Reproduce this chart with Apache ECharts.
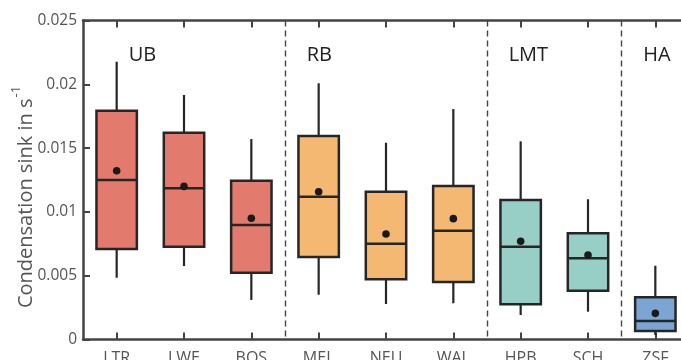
<!DOCTYPE html>
<html>
<head>
<meta charset="utf-8">
<script src="https://cdn.jsdelivr.net/npm/echarts@6/dist/echarts.min.js"></script>
<style>
html,body{margin:0;padding:0;background:#fff;overflow:hidden;width:681px;height:360px;}
#c{width:720px;height:400px;}
</style>
</head>
<body>
<div id="c"></div>
<script>
// ---- data ----
const sites = ['LTR','LWE','BOS','MEL','NEU','WAL','HPB','SCH','ZSF'];
const whiskerLow  = [0.00484,0.00576,0.00310,0.00351,0.00278,0.00284,0.00192,0.00218,0.00035];
const q1          = [0.00709,0.00727,0.00524,0.00647,0.00472,0.00451,0.00276,0.00382,0.00067];
const median      = [0.01250,0.01185,0.00897,0.01119,0.00751,0.00853,0.00727,0.00636,0.00145];
const q3          = [0.01793,0.01621,0.01245,0.01595,0.01158,0.01203,0.01093,0.00832,0.00331];
const whiskerHigh = [0.02177,0.01916,0.01571,0.02008,0.01542,0.01806,0.01553,0.01099,0.00578];
const mean        = [0.01323,0.01200,0.00950,0.01158,0.00827,0.00947,0.00770,0.00662,0.00205];
const siteGroup   = [0,0,0,1,1,1,2,2,3];
const groupNames  = ['UB','RB','LMT','HA'];
const groupSite   = [0,3,6,8];
const groupLabelY = [0.0223,0.0223,0.0223,0.0223];
const yTicks      = [0,0.005,0.01,0.015,0.02,0.025];
const separatorsAt = [3,6,8];

const groupColors = ['#E27B6D','#F4B872','#97CFC7','#7BA6D4'];
const ink = '#262626';
const axisCol = '#444444';
const textCol = '#555555';

const boxData = sites.map((s,i)=>[i, whiskerLow[i], q1[i], median[i], q3[i], whiskerHigh[i], mean[i], siteGroup[i]]);
const labelData = groupNames.map((g,i)=>[groupSite[i], groupLabelY[i], i]);

function renderBox(params, api){
  const x = api.value(0);
  const pLo = api.coord([x, api.value(1)]);
  const pQ1 = api.coord([x, api.value(2)]);
  const pMed = api.coord([x, api.value(3)]);
  const pQ3 = api.coord([x, api.value(4)]);
  const pHi = api.coord([x, api.value(5)]);
  const pMean = api.coord([x, api.value(6)]);
  const g = api.value(7);
  const bw = api.size([1,0])[0]*0.6;
  const cx = pMed[0];
  return {
    type:'group',
    children:[
      {type:'line', shape:{x1:cx,y1:pHi[1],x2:cx,y2:pQ3[1]}, style:{stroke:ink,lineWidth:2.2}},
      {type:'line', shape:{x1:cx,y1:pQ1[1],x2:cx,y2:pLo[1]}, style:{stroke:ink,lineWidth:2.2}},
      {type:'rect', shape:{x:cx-bw/2,y:pQ3[1],width:bw,height:pQ1[1]-pQ3[1]}, style:{fill:groupColors[g],stroke:ink,lineWidth:2.5}},
      {type:'line', shape:{x1:cx-bw/2,y1:pMed[1],x2:cx+bw/2,y2:pMed[1]}, style:{stroke:ink,lineWidth:2.5}},
      {type:'circle', shape:{cx:cx,cy:pMean[1],r:3.8}, style:{fill:'#1a1a1a'}}
    ]
  };
}

function renderLabel(params, api){
  const x = api.value(0);
  const p = api.coord([x, api.value(1)]);
  const i = api.value(2);
  const off = (i===0) ? 12 : -12;
  return {
    type:'text',
    x: p[0]+off, y: p[1],
    style:{text: groupNames[i], fill:'#222', font:'20px "Open Sans"', align:'left', verticalAlign:'middle'}
  };
}

const chart = echarts.init(document.getElementById('c'), null, {renderer:'canvas'});
chart.setOption({
  animation:false,
  backgroundColor:'#fff',
  grid:{left:83, top:20.5, width:606, height:319, containLabel:false},
  xAxis:[{
    type:'category', data:sites, position:'bottom', boundaryGap:true,
    axisLine:{show:true, lineStyle:{color:axisCol,width:2.5}},
    axisTick:{show:true, inside:true, alignWithLabel:true, length:7, lineStyle:{color:axisCol,width:2}},
    axisLabel:{color:textCol, fontFamily:'Open Sans', fontSize:16, margin:11},
    splitLine:{show:true, interval:(idx)=>separatorsAt.indexOf(idx)>=0, lineStyle:{color:'#444',width:1.4,type:[6,4]}}
  },{
    type:'category', data:sites, position:'top', boundaryGap:true,
    axisLine:{show:true, lineStyle:{color:axisCol,width:2.5}},
    axisTick:{show:true, inside:true, alignWithLabel:true, length:7, lineStyle:{color:axisCol,width:2}},
    axisLabel:{show:false}, splitLine:{show:false}
  }],
  yAxis:{
    type:'value', min:yTicks[0], max:yTicks[yTicks.length-1], interval:0.005,
    axisLine:{show:true, lineStyle:{color:axisCol,width:2.5}},
    axisTick:{show:true, inside:true, length:7, lineStyle:{color:axisCol,width:2}},
    axisLabel:{color:textCol, fontFamily:'Open Sans', fontSize:15.5, margin:6,
      formatter:(v)=>{ for (const t of yTicks){ if (Math.abs(t-v)<1e-9) return String(t);} return ''; }},
    splitLine:{show:false}
  },
  graphic:[{
    type:'text', x:23, y:197, rotation:Math.PI/2,
    style:{
      text:'{a|Condensation sink in s}{b|-1}',
      align:'center', verticalAlign:'middle',
      rich:{
        a:{fontFamily:'Open Sans', fontSize:20, fill:textCol, color:textCol, lineHeight:26, verticalAlign:'bottom'},
        b:{fontFamily:'Open Sans', fontSize:13, fill:textCol, color:textCol, lineHeight:26, verticalAlign:'top', padding:[0,0,8,1]}
      }
    }
  }],
  series:[{
    type:'custom', renderItem:renderBox, data:boxData, xAxisIndex:0, clip:false,
    encode:{x:0, y:[1,2,3,4,5,6]}
  },{
    type:'custom', renderItem:renderLabel, data:labelData, xAxisIndex:0,
    encode:{x:0, y:1}
  }]
});
</script>
</body>
</html>
